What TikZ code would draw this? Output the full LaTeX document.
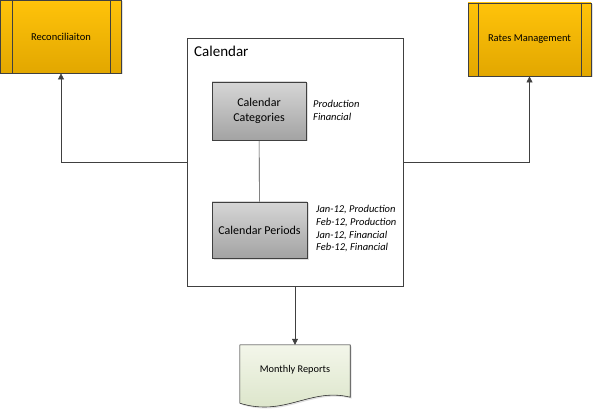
\documentclass[tikz,border=0pt]{standalone}
\usepackage{fontspec}
\setmainfont{Carlito}
\usetikzlibrary{arrows.meta,shadows}

\definecolor{procTop}{HTML}{FFC30A}
\definecolor{procBot}{HTML}{E2A700}
\definecolor{grayTop}{HTML}{D6D6D6}
\definecolor{grayBot}{HTML}{A3A3A3}
\definecolor{docTop}{HTML}{F3F6EA}
\definecolor{docBot}{HTML}{D9E3C6}
\definecolor{edge}{HTML}{404040}

\tikzset{
  subproc/.style={rectangle, draw=edge, line width=0.8pt, top color=procTop, bottom color=procBot,
    font=\fontsize{10.5}{12}\selectfont, drop shadow={shadow xshift=1.5pt, shadow yshift=-1.5pt, opacity=0.25}},
  entity/.style={rectangle, draw=edge, line width=0.6pt, top color=grayTop, bottom color=grayBot,
    align=center, font=\fontsize{12}{14.5}\selectfont, drop shadow={shadow xshift=1.5pt, shadow yshift=-1.5pt, opacity=0.25}},
  note/.style={align=left, inner sep=0pt, font=\fontsize{10.5}{12.8}\selectfont\itshape},
  link/.style={draw=edge, line width=0.6pt},
  flow/.style={link, -{Triangle[length=6pt, width=6pt]}}
}

\begin{document}
\begin{tikzpicture}[x=1pt, y=-1pt]
\useasboundingbox (0,0) rectangle (594,414);

% outer processes
\node[subproc, minimum width=121pt, minimum height=73pt] (rec) at (61,36.5) {Reconciliaiton};
\node[subproc, minimum width=123pt, minimum height=73pt] (rates) at (529.5,39.5) {Rates Management};
\draw[link] ([xshift=12pt]rec.north west) -- ([xshift=12pt]rec.south west);
\draw[link] ([xshift=-12pt]rec.north east) -- ([xshift=-12pt]rec.south east);
\draw[link] ([xshift=11pt]rates.north west) -- ([xshift=11pt]rates.south west);
\draw[link] ([xshift=-10pt]rates.north east) -- ([xshift=-10pt]rates.south east);

% calendar container
\node[rectangle, draw=edge, line width=0.6pt, fill=white, minimum width=216pt, minimum height=248pt] (cal) at (295,162) {};
\node[anchor=west, inner sep=0pt, font=\fontsize{15}{17}\selectfont] (caltitle) at (194,51) {Calendar};

\node[entity, minimum width=94pt, minimum height=58pt] (cat) at (259,111) {Calendar\\Categories};
\node[entity, minimum width=95pt, minimum height=56pt] (per) at (259.5,230) {Calendar Periods};
\draw[link] (cat) -- (per);

\node[note, anchor=north west] (catnote) at (313,100) {Production\\Financial};
\node[note, anchor=north west] (pernote) at (316,205) {Jan-12, Production\\Feb-12, Production\\Jan-12, Financial\\Feb-12, Financial};

% report document
\node[rectangle, minimum width=110pt, minimum height=60pt] (rep) at (295,375) {};
\filldraw[draw=edge, line width=0.6pt, top color=docTop, bottom color=docBot,
  drop shadow={shadow xshift=1.5pt, shadow yshift=-1.5pt, opacity=0.25}]
  (rep.north west) -- (rep.north east) -- ([yshift=8pt]rep.south east)
  .. controls ([xshift=-40pt,yshift=18pt]rep.south east) and ([xshift=45pt,yshift=-12pt]rep.south west)
  .. ([yshift=2pt]rep.south west) -- cycle;
\node[font=\fontsize{10.3}{12}\selectfont] (replabel) at (295,370) {Monthly Reports};

% connectors
\draw[flow] (cal.west) -| (rec.south);
\draw[flow] (cal.east) -| (rates.south);
\draw[flow] (cal.south) -- (rep.north);
\end{tikzpicture}
\end{document}
